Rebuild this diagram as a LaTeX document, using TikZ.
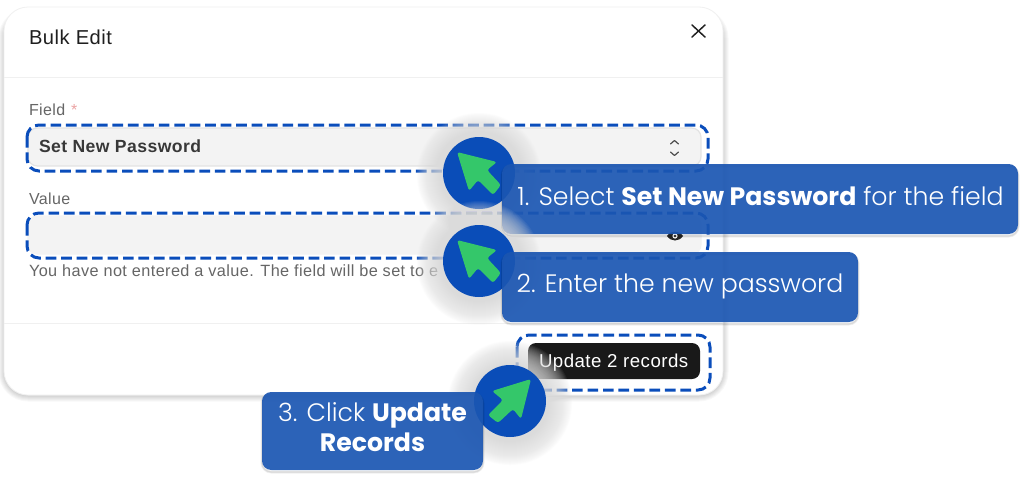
\documentclass[tikz,border=0pt]{standalone}
\usepackage{fontspec}
\setmainfont[LetterSpace=2.5]{Liberation Sans}
\newfontfamily\popfont[UprightFont={* Light},BoldFont={* Bold}]{Poppins}
\definecolor{dashblue}{HTML}{0A4DBB}
\definecolor{circblue}{HTML}{0A4DB8}
\definecolor{callblue}{HTML}{1B56B2}
\definecolor{arrowgreen}{HTML}{34C76A}
\definecolor{labelgray}{HTML}{666666}
\definecolor{fieldfill}{HTML}{F3F3F3}
\definecolor{fieldline}{HTML}{E3E3E3}
\definecolor{titleink}{HTML}{1F1F1F}
\definecolor{starred}{HTML}{EBA3A3}
\tikzset{
  x=0.75pt,y=-0.75pt,
  guide/.style={draw=dashblue,line width=2.25pt,dash pattern=on 8pt off 3.6pt,rounded corners=9pt},
  field/.style={fill=fieldfill,draw=fieldline,line width=0.9pt,rounded corners=7pt},
  plain/.style={anchor=base west,inner sep=0pt,outer sep=0pt},
  callout/.style={fill=callblue,fill opacity=0.92,rounded corners=7pt},
  calltext/.style={inner sep=0pt,outer sep=0pt,text=white,font=\popfont\fontsize{18.9pt}{22.5pt}\selectfont},
  badge/.style={fill=circblue},
  pointer/.style={fill=arrowgreen,rounded corners=2pt},
  divider/.style={draw=black!6,line width=0.75pt}
}
\newcommand{\pointershape}{(-22,-21) -- (18,-11) -- (8,-3) -- (22,12) -- (14,22) -- (-1,7) -- (-10,18) -- cycle}
\newcommand{\hazeat}[2]{\foreach \r in {37,38,...,62}{\fill[black!14,opacity=0.065] (#1,#2+2) circle (\r);}}
\newcommand{\calloutshadow}[4]{\foreach \w in {1,2,3}{\draw[black,opacity=0.05,line width=\w*0.75pt,rounded corners=7pt] (#1,#2+2) rectangle (#3,#4+2);}}
\begin{document}
\begin{tikzpicture}
\useasboundingbox (0,0) rectangle (1024,482);
\fill[white] (0,0) rectangle (1024,482);
% card shadow
\foreach \w in {1,3,5,7,9,11}{
  \draw[black,opacity=0.028,line width=\w*0.75pt,rounded corners=18pt] (4,14) rectangle (723,396);
}
\fill[white,rounded corners=18pt] (4,7) rectangle (723,395);
\draw[black!6,line width=0.6pt,rounded corners=18pt] (4,7) rectangle (723,395);
\node[plain,text=titleink,font=\fontsize{15.1pt}{16pt}\selectfont] (title) at (29,44) {Bulk Edit};
\draw[titleink,line width=1.1pt,line cap=round] (692,25) -- (705,37) (705,25) -- (692,37);
\draw[divider] (4,77) -- (723,77);
\draw[divider] (4,323) -- (723,323);
\node[plain,text=labelgray,font=\fontsize{12pt}{14pt}\selectfont] (fieldlabel) at (29,115) {Field};
\node[plain,text=starred,font=\fontsize{12pt}{14pt}\selectfont] (star) at (71,115) {*};
\draw[field] (28,128) rectangle (701,166);
\node[plain,text=black!78,font=\bfseries\fontsize{13.2pt}{14pt}\selectfont] (setnew) at (39,152) {Set New Password};
\draw[black!70,line width=0.9pt,line cap=round,line join=round] (670.5,144) -- (674.5,140.5) -- (678.5,144) (670.5,152) -- (674.5,155.5) -- (678.5,152);
\node[plain,text=labelgray,font=\fontsize{12pt}{14pt}\selectfont] (valuelabel) at (29,204) {Value};
\draw[field,draw=fieldfill] (28,216) rectangle (701,254);
\node[plain,text=labelgray,font=\fontsize{12.2pt}{14pt}\selectfont] (hint) at (29,276) {You have not entered a value. The field will be set to e};
\fill[black!85] (667,236) .. controls (671,230) and (679,230) .. (683,236) .. controls (679,242) and (671,242) .. (667,236) -- cycle;
\fill[white] (675,236) circle (2.6);
\fill[black!85] (675,236) circle (1.4);
\fill[black!90,rounded corners=6pt] (528,343) rectangle (700,379);
\node[plain,text=white,font=\fontsize{14pt}{14pt}\selectfont] (updatebtn) at (539,367) {Update 2 records};
% dashed guides
\draw[guide] (27,125) rectangle (708,171);
\draw[guide] (27,213) rectangle (708,258);
\draw[guide] (517,335) rectangle (710,390);
% step 1
\hazeat{479}{173}
\fill[badge] (479,173) circle (36);
\fill[pointer,shift={(479,173)}] \pointershape;
\calloutshadow{502}{164}{1018}{234}
\fill[callout] (502,164) rectangle (1018,234);
\node[calltext] (one) at (760.5,196) {1. Select \textbf{Set New Password} for the field};
% step 2
\hazeat{479}{261}
\fill[badge] (479,261) circle (36);
\fill[pointer,shift={(479,261)}] \pointershape;
\calloutshadow{502}{252}{858}{322}
\fill[callout] (502,252) rectangle (858,322);
\node[calltext] (two) at (680,286) {2. Enter the new password};
% step 3
\hazeat{510}{401}
\fill[badge] (510,401) circle (36);
\fill[pointer,shift={(510,401)},rotate=-90] \pointershape;
\calloutshadow{262}{392}{483}{470}
\fill[callout] (262,392) rectangle (483,470);
\node[calltext,align=center] (three) at (372.5,427) {3. Click \textbf{Update}\\\textbf{Records}};
\end{tikzpicture}
\end{document}
